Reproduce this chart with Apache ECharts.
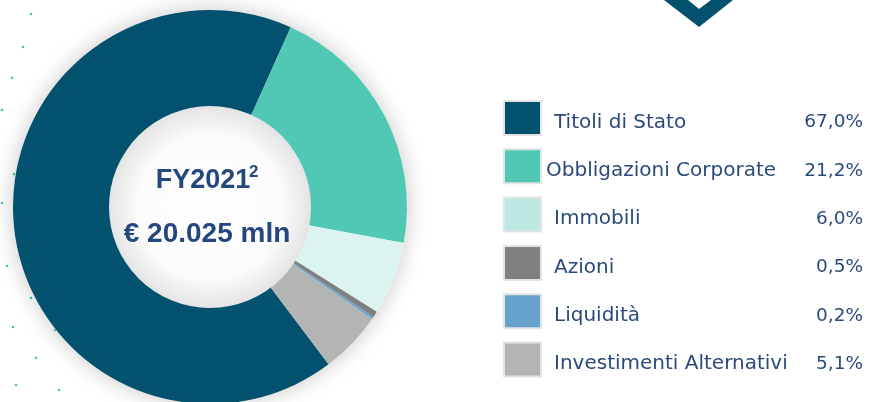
<!DOCTYPE html>
<html lang="it">
<head>
<meta charset="UTF-8">
<title>FY2021</title>
<script src="https://cdn.jsdelivr.net/npm/echarts@6/dist/echarts.min.js"></script>
<style>
  html, body { margin: 0; padding: 0; background: #fff; }
  #main { width: 872px; height: 402px; }
</style>
</head>
<body>
<div id="main"></div>
<script>
// categorie e valori (%)
const categories = ['Titoli di Stato', 'Obbligazioni Corporate', 'Immobili', 'Azioni', 'Liquidità', 'Investimenti Alternativi'];
const values = [67.0, 21.2, 6.0, 0.5, 0.2, 5.1];
const labels = ['67,0%', '21,2%', '6,0%', '0,5%', '0,2%', '5,1%'];
const colors = ['#02526f', '#50c8b4', '#dcf4f0', '#808080', '#66a2cb', '#b3b5b4'];
const legendColors = ['#02526f', '#50c8b4', '#bde9e2', '#808080', '#66a2cb', '#b3b5b4'];

const navy = '#2b4a7c';
const cx = 210, cy = 207;

// puntini decorativi a sinistra
const dots = [[31, 14], [23, 47], [12, 78], [2, 110], [14, 174], [2, 203], [7, 266], [31, 298], [13, 327], [36, 358], [16, 385], [59, 390], [55, 330]];

let chartDom = document.getElementById('main');
let myChart = echarts.init(chartDom);
let option;

option = {
  backgroundColor: '#fff',
  animation: false,
  legend: {
    orient: 'vertical',
    left: 503,
    top: 100,
    padding: 0,
    itemWidth: 37,
    itemHeight: 34,
    itemGap: 12.3,
    selectedMode: false,
    icon: 'rect',
    itemStyle: { borderColor: '#e3e3e3', borderWidth: 2 },
    data: categories.map((c, i) => ({ name: c, itemStyle: { color: legendColors[i] } })),
    formatter: function (name) {
      const i = categories.indexOf(name);
      const key = name === 'Obbligazioni Corporate' ? 'o' : 'n';
      return '{' + key + '|' + name + '}{v|' + labels[i] + '}';
    },
    textStyle: {
      color: navy,
      fontFamily: 'DejaVu Sans',
      fontSize: 20,
      rich: {
        n: { width: 250, padding: [9, 0, 0, 8], fontSize: 20, color: navy, fontFamily: 'DejaVu Sans' },
        o: { width: 258, padding: [9, 0, 0, 0], fontSize: 20, color: navy, fontFamily: 'DejaVu Sans' },
        v: { width: 59, align: 'right', padding: [9, 0, 0, 0], fontSize: 18.5, color: navy, fontFamily: 'DejaVu Sans' }
      }
    }
  },
  graphic: [
    // chevron in alto
    { type: 'polygon', shape: { points: [[664, 0], [699, 27], [733, 0]] }, style: { fill: '#02526f' }, z: 1 },
    { type: 'polygon', shape: { points: [[688, 0], [699, 9], [711, 0]] }, style: { fill: '#fff' }, z: 2 },
    // ombra interna del foro
    {
      type: 'circle', shape: { cx: cx, cy: cy, r: 101 }, z: 100, silent: true,
      style: {
        fill: {
          type: 'radial', x: 0.5, y: 0.5, r: 0.5,
          colorStops: [{ offset: 0, color: '#ffffff' }, { offset: 0.72, color: '#fbfbfb' }, { offset: 1, color: '#e4e4e4' }]
        }
      }
    },
    {
      type: 'text', z: 101,
      style: { x: cx - 7, y: 181, text: 'FY2021', fill: '#24477f', font: 'bold 27px "Liberation Sans", Arial', align: 'center', verticalAlign: 'middle' }
    },
    {
      type: 'text', z: 101,
      style: { x: 249, y: 172, text: '2', fill: '#24477f', font: 'bold 17px "Liberation Sans", Arial', align: 'left', verticalAlign: 'middle' }
    },
    {
      type: 'text', z: 101,
      style: { x: cx - 3, y: 234, text: '€ 20.025 mln', fill: '#24477f', font: 'bold 28px "Liberation Sans", Arial', align: 'center', verticalAlign: 'middle' }
    }
  ].concat(dots.map(d => ({
    type: 'circle', shape: { cx: d[0], cy: d[1], r: 1.3 }, style: { fill: '#4fc3b0' }, z: 1
  }))),
  series: [
    {
      // alone/ombra esterna
      type: 'pie',
      silent: true,
      center: [cx, cy],
      radius: [100, 197],
      label: { show: false },
      itemStyle: { color: '#ffffff', shadowBlur: 22, shadowColor: 'rgba(0,0,0,0.22)' },
      data: [{ value: 1, name: '_bg' }],
      z: 1
    },
    {
      type: 'pie',
      center: [cx, cy],
      radius: [100, 197],
      startAngle: 307,
      clockwise: true,
      label: { show: false },
      labelLine: { show: false },
      emphasis: { disabled: true },
      data: categories.map((c, i) => ({ name: c, value: values[i], itemStyle: { color: colors[i] } })),
      z: 2
    }
  ]
};

option && myChart.setOption(option);
</script>
</body>
</html>
